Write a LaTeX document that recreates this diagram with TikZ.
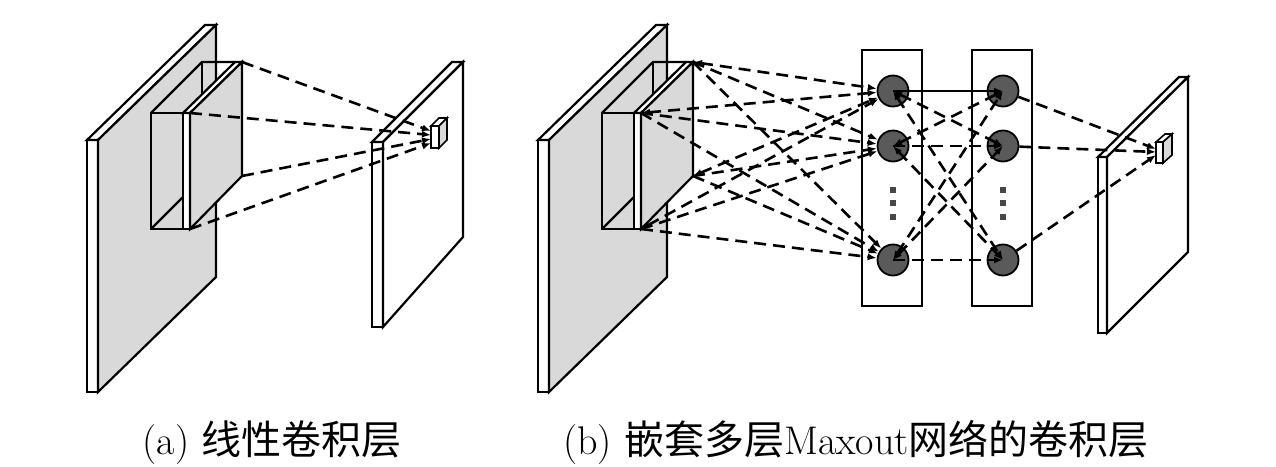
\documentclass[tikz,border=0pt]{standalone}
\usepackage{fontspec}
\newfontfamily\cjk{Noto Sans CJK SC}
\usetikzlibrary{arrows.meta}
\definecolor{slabgray}{HTML}{D9D9D9}
\definecolor{neurongray}{HTML}{5A5A5A}
\definecolor{dotgray}{HTML}{484848}
\tikzset{
  edge/.style={line width=2.2pt, line join=miter},
  link/.style={line width=2.6pt, dash pattern=on 12pt off 7pt},
  tipend/.style={-{Latex[length=9pt,width=7pt]}},
  tipboth/.style={{Latex[length=9pt,width=7pt]}-{Latex[length=9pt,width=7pt]}},
  neuron/.style={circle, draw, line width=1.8pt, fill=neurongray, minimum size=31pt, inner sep=0pt},
  layerbox/.style={draw, line width=2.2pt, minimum width=60pt, minimum height=256pt, inner sep=0pt},
  caption/.style={anchor=base, inner sep=0pt, font=\fontsize{40}{44}\selectfont},
  bigslab/.pic={
    % large input slab
    \draw[edge, fill=white] (87,140) rectangle (98,392);
    \draw[edge, fill=white] (87,140) -- (98,140) -- (216,25) -- (205,25) -- cycle;
    \draw[edge, fill=slabgray] (98,140) -- (216,25) -- (216,277) -- (98,392) -- cycle;
    % wireframe receptive box
    \draw[edge] (151,113) rectangle (183,229);
    \draw[edge] (151,113) -- (202,62) -- (235,62);
    \draw[edge] (202,62) -- (202,178);
    \draw[edge] (151,229) -- (202,178);
    % thin plate
    \draw[edge, fill=white] (183,113) rectangle (190,229);
    \draw[edge, fill=white] (183,113) -- (190,113) -- (242,62) -- (235,62) -- cycle;
    \draw[edge, fill=slabgray] (190,113) -- (242,62) -- (242,176) -- (190,229) -- cycle;
    \coordinate (-ttop) at (242,62);
    \coordinate (-ftop) at (190,113);
    \coordinate (-tbot) at (242,176);
    \coordinate (-fbot) at (190,229);
  }
}
\begin{document}
\begin{tikzpicture}[x=1pt,y=-1pt]
\useasboundingbox (0,0) rectangle (1276,466);

% ---------------- (a) ----------------
\pic (A) at (0,0) {bigslab};
% output slab
\draw[edge, fill=white] (372,142) rectangle (383,327);
\draw[edge, fill=white] (372,142) -- (383,142) -- (463,62) -- (452,62) -- cycle;
\draw[edge, fill=white] (383,142) -- (463,62) -- (463,237) -- (383,327) -- cycle;
% output cube
\draw[edge, line width=1.6pt, fill=white] (431,126) rectangle (439,148);
\draw[edge, line width=1.6pt, fill=white] (431,126) -- (439,126) -- (447,118) -- (439,118) -- cycle;
\draw[edge, line width=1.6pt, fill=slabgray] (439,126) -- (447,118) -- (447,140) -- (439,148) -- cycle;
\coordinate (ca1) at (431,131);
\coordinate (ca2) at (431,135);
\coordinate (ca3) at (431,139);
\coordinate (ca4) at (431,143);
\draw[link, tipend] (A-ttop) -- (ca1);
\draw[link, tipend] (A-ftop) -- (ca2);
\draw[link, tipend] (A-tbot) -- (ca3);
\draw[link, tipend] (A-fbot) -- (ca4);

% ---------------- (b) ----------------
\pic (B) at (451,0) {bigslab};
\node[layerbox] (L1) at (892,178) {};
\node[layerbox] (L2) at (1002,178) {};
\node[neuron] (n11) at (893,91) {};
\node[neuron] (n12) at (893,146) {};
\node[neuron] (n13) at (893,260) {};
\node[neuron] (n21) at (1003,91) {};
\node[neuron] (n22) at (1003,146) {};
\node[neuron] (n23) at (1003,260) {};
% vertical dots
\foreach \xx in {893,1003}{
  \foreach \yy in {190,203,217}{
    \fill[dotgray] (\xx-2.8,\yy-2.8) rectangle (\xx+2.8,\yy+2.8);
  }
}
% box corners to first layer
\draw[link, tipboth] (B-ttop) -- (n11);
\draw[link, tipend] (B-ttop) -- (n12);
\draw[link, tipend] (B-ttop) -- (n13);
\draw[link, tipboth] (B-ftop) -- (n11);
\draw[link, tipend] (B-ftop) -- (n12);
\draw[link, tipend] (B-ftop) -- (n13);
\draw[link, tipboth] (B-tbot) -- (n11);
\draw[link, tipend] (B-tbot) -- (n12);
\draw[link, tipend] (B-tbot) -- (n13);
\draw[link, tipboth] (B-fbot) -- (n11);
\draw[link, tipend] (B-fbot) -- (n12);
\draw[link, tipend] (B-fbot) -- (n13);
% first layer to second layer
\draw[line width=2pt, tipend] (n11.center) -- (n21.center);
\draw[link, tipend] (n12.center) -- (n22.center);
\draw[link, tipend] (n13.center) -- (n23.center);
\draw[link, tipboth] (n11.center) -- (n22.center);
\draw[link, tipboth] (n11.center) -- (n23.center);
\draw[link, tipboth] (n12.center) -- (n21.center);
\draw[link, tipboth] (n12.center) -- (n23.center);
\draw[link, tipboth] (n13.center) -- (n21.center);
\draw[link, tipboth] (n13.center) -- (n22.center);
% output slab
\draw[edge, fill=white] (1098,157) rectangle (1107,333);
\draw[edge, fill=white] (1098,157) -- (1107,157) -- (1188,77) -- (1179,77) -- cycle;
\draw[edge, fill=white] (1107,157) -- (1188,77) -- (1188,252) -- (1107,333) -- cycle;
% output cube
\draw[edge, line width=1.6pt, fill=white] (1156,142) rectangle (1163,163);
\draw[edge, line width=1.6pt, fill=white] (1156,142) -- (1163,142) -- (1172,134) -- (1165,134) -- cycle;
\draw[edge, line width=1.6pt, fill=slabgray] (1163,142) -- (1172,134) -- (1172,155) -- (1163,163) -- cycle;
\coordinate (cb1) at (1156,149);
\coordinate (cb2) at (1156,152);
\coordinate (cb3) at (1156,155);
\draw[link, tipend] (n21) -- (cb1);
\draw[link, tipend] (n22) -- (cb2);
\draw[link, tipend] (n23) -- (cb3);

% captions
\node[caption] (capA) at (272,454) {(a) {\cjk 线性卷积层}};
\node[caption] (capB) at (856,454) {(b) {\cjk 嵌套多层}Maxout{\cjk 网络的卷积层}};
\end{tikzpicture}
\end{document}
